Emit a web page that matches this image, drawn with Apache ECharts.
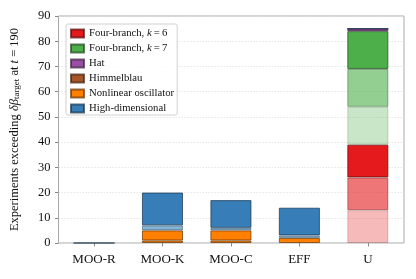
<!DOCTYPE html>
<html><head><meta charset="utf-8">
<script src="https://cdn.jsdelivr.net/npm/echarts@6/dist/echarts.min.js"></script>
<style>html,body{margin:0;padding:0;background:#fff}#c{width:416px;height:279px}</style>
</head><body><div id="c"></div>
<script>
const categories = ['MOO-R', 'MOO-K', 'MOO-C', 'EFF', 'U'];
const yTicks = [0, 10, 20, 30, 40, 50, 60, 70, 80, 90];
// Four-branch, k=6 (three shades)
const fb6Light = [0, 0, 0, 0, 13];
const fb6Mid   = [0, 0, 0, 0, 13];
const fb6Dark  = [0, 0, 0, 0, 13];
// Four-branch, k=7 (three shades)
const fb7Light = [0, 0, 0, 0, 15];
const fb7Mid   = [0, 0, 0, 0, 15];
const fb7Dark  = [0, 0, 0, 0, 15];
// Hat
const hat = [0, 0, 0, 0, 1];
// Himmelblau
const himmelblau = [0, 0, 0, 0, 0];
// Nonlinear oscillator (two segments)
const nlA = [0, 1, 1, 0, 0];
const nlB = [0, 4, 4, 2, 0];
// High-dimensional (two shades)
const hdMid  = [0, 2, 1, 1, 0];
const hdDark = [0, 13, 11, 11, 0];

const FONT = 'Liberation Serif';
const COL = {
  'Four-branch, k=6': [228, 26, 28],
  'Four-branch, k=7': [77, 175, 74],
  'Hat': [152, 78, 163],
  'Himmelblau': [166, 86, 40],
  'Nonlinear oscillator': [255, 127, 0],
  'High-dimensional': [55, 126, 184]
};
const legendNames = Object.keys(COL);
// [function, values, shade alpha, suffix, draw zero-height edge]
const segs = [
  ['Four-branch, k=6', fb6Light, 0.3, 'a', false],
  ['Four-branch, k=6', fb6Mid, 0.6, 'b', false],
  ['Four-branch, k=6', fb6Dark, 1, '', false],
  ['Four-branch, k=7', fb7Light, 0.3, 'a', false],
  ['Four-branch, k=7', fb7Mid, 0.6, 'b', false],
  ['Four-branch, k=7', fb7Dark, 1, '', false],
  ['Hat', hat, 1, '', false],
  ['Himmelblau', himmelblau, 1, '', false],
  ['Nonlinear oscillator', nlA, 1, 'a', false],
  ['Nonlinear oscillator', nlB, 1, '', false],
  ['High-dimensional', hdMid, 0.6, 'b', false],
  ['High-dimensional', hdDark, 1, '', true]
];
const series = segs.map(([fn, data, a, suf, keepZero]) => {
  const c = COL[fn];
  return {
    type: 'bar', name: suf ? fn + ' ' + suf : fn, stack: 'all',
    xAxisIndex: 1, yAxisIndex: 1, barWidth: '60%',
    data: data.map(v => (v === 0 && !keepZero) ? '-' : v),
    itemStyle: {
      color: `rgba(${c[0]},${c[1]},${c[2]},${a})`,
      borderColor: `rgba(${Math.round(c[0]*0.4)},${Math.round(c[1]*0.4)},${Math.round(c[2]*0.4)},${0.7*a})`,
      borderWidth: 1
    },
    emphasis: {disabled: true}, animation: false
  };
});
const chart = echarts.init(document.getElementById('c'), null, {renderer: 'canvas'});
chart.setOption({
  animation: false,
  grid: [
    {left: 57, top: 16, width: 347, height: 227, show: true, borderColor: '#a8a8a8', borderWidth: 1, backgroundColor: 'transparent'},
    {left: 59.8, top: 16, width: 342.25, height: 227}
  ],
  xAxis: [
    {type: 'value', gridIndex: 0, min: 0, max: 1, show: false},
    {type: 'category', gridIndex: 1, data: categories,
     axisLine: {show: false},
     axisTick: {show: true, alignWithLabel: true, length: 3.5, lineStyle: {color: '#888'}},
     axisLabel: {fontFamily: FONT, fontSize: 13, color: '#111', margin: 10}}
  ],
  yAxis: [
    {type: 'value', gridIndex: 0, min: 0, max: 90, interval: 10,
     axisLine: {show: false},
     axisTick: {show: true, length: 3.5, lineStyle: {color: '#888'}},
     axisLabel: {fontFamily: FONT, fontSize: 12.5, color: '#111', margin: 8,
       formatter: v => yTicks.includes(v) ? String(v) : ''},
     splitLine: {show: true, lineStyle: {color: '#e0e0e0', type: [1.5, 1.5], width: 0.8}},
     name: '{n|Experiments exceeding }{i|δβ}{s|target}{n| at }{i|t}{n| = 190}',
     nameLocation: 'middle', nameRotate: 90, nameGap: 37,
     nameTextStyle: {fontFamily: FONT, fontSize: 12.5, color: '#111',
       rich: {
         n: {fontFamily: FONT, fontSize: 12.5, color: '#111'},
         i: {fontFamily: FONT, fontSize: 12.5, color: '#111', fontStyle: 'italic'},
         s: {fontFamily: FONT, fontSize: 9, color: '#111', padding: [5, 0, 0, 0], verticalAlign: 'bottom'}
       }}},
    {type: 'value', gridIndex: 1, min: 0, max: 90, show: false}
  ],
  legend: {
    data: legendNames.map(n => ({name: n, icon: 'rect'})), orient: 'vertical', left: 66, top: 24,
    itemWidth: 13, itemHeight: 8, itemGap: 2,
    padding: [3, 3, 0, 4],
    backgroundColor: 'rgba(255,255,255,0.85)', borderColor: '#d0d0d0', borderWidth: 1, borderRadius: 2,
    textStyle: {fontFamily: FONT, fontSize: 10.7, color: '#111', lineHeight: 13,
      rich: {
        n: {fontFamily: FONT, fontSize: 10.7, color: '#111', lineHeight: 13},
        i: {fontFamily: FONT, fontSize: 10.7, color: '#111', fontStyle: 'italic', lineHeight: 13}
      }},
    formatter: name => {
      const m = name.match(/^(.*), k=(\d)$/);
      return m ? `{n|${m[1]}, }{i|k}{n|\u2009=\u2009${m[2]}}` : `{n|${name}}`;
    },
    selectedMode: false
  },
  series: series
});
</script></body></html>
